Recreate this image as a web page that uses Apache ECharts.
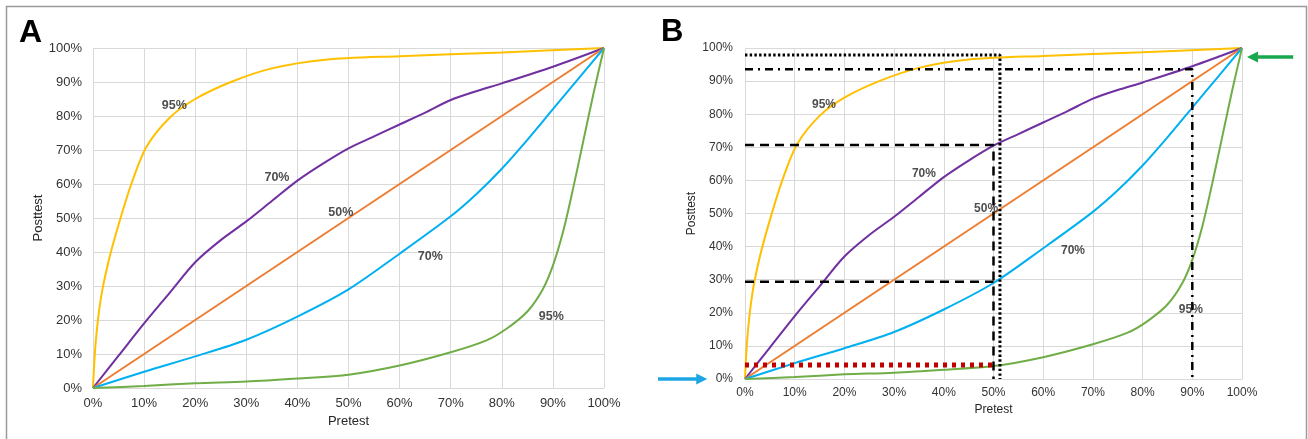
<!DOCTYPE html>
<html>
<head>
<meta charset="utf-8">
<script src="https://cdn.jsdelivr.net/npm/echarts@6/dist/echarts.min.js"></script>
<style>
html,body{margin:0;padding:0;background:#fff;}
#c{width:1308px;height:439px;}
</style>
</head>
<body>
<div id="c"></div>
<script>
// ---- data (percent values) ----
const xTicks = [0,10,20,30,40,50,60,70,80,90,100];
const pos95 = [[0,0],[0.5,13],[1.5,26],[3,37],[5,48],[7.5,60],[10.5,71],[15,79.5],[20,85],[27,90],[35,94],[45,96.5],[60,97.6],[80,98.7],[100,100]];
const pos70 = [[0,0],[5,9.5],[10,19],[15,28],[20,37],[25,43.5],[30,49],[35,55],[40,61],[45,66],[50,70.5],[55,74],[60,77.5],[65,81],[70,84.7],[75,87.3],[80,89.6],[90,94.5],[100,100]];
const neutral50 = [[0,0],[100,100]];
const neg70 = [[0,0],[10,4.8],[20,9.3],[30,14.2],[40,21],[50,29],[60,39.5],[70,50.5],[75,57],[80,64.5],[85,73],[90,82],[95,91],[100,100]];
const neg95 = [[0,0],[10,0.6],[20,1.4],[30,1.9],[40,2.8],[50,3.9],[60,6.6],[70,10.5],[77,14],[81,17.5],[85,22.5],[88,29],[90,36],[92,46],[94,59],[96,73],[98,87],[100,100]];
const curveLabelText = ['95%','70%','50%','70%','95%'];
const curveLabelX = [15.9,36,48.5,66,89.7];
const curveLabelY = [83,62,51.5,38.8,21];
// panel B guide lines
const dottedGuide = [[0,97.9],[51.3,97.9],[51.3,0]];
const dashDotGuide = [[0,93.6],[90,93.6],[90,0]];
const dashedGuide70 = [[0,70.7],[50,70.7],[50,0]];
const dashedGuide30 = [[0,29.4],[50,29.4]];
const redDottedGuide = [[0,4.2],[50,4.2]];
const blueArrow = [[-17.5,0],[-7.6,0]];     // tail, tip
const greenArrow = [[110.3,97.3],[101,97.3]]; // tail, tip

const FONT = "'Liberation Sans', Arial, sans-serif";
const colors = {y:'#FFC000', p:'#7030A0', o:'#ED7D31', b:'#00B0F0', g:'#70AD47'};

const chart = echarts.init(document.getElementById('c'), null, {renderer:'canvas'});

function axes(gi, fs, ymargin, xmargin, ygap, xgap){
  const common = {
    type:'value', min:0, max:100, interval:10, gridIndex:gi,
    axisLine:{show:true, lineStyle:{color:'#d9d9d9', width:1}},
    axisTick:{show:false},
    splitLine:{show:true, lineStyle:{color:'#d9d9d9', width:1}},
    nameTextStyle:{fontFamily:FONT, fontSize:fs, color:'#262626'},
    nameLocation:'middle'
  };
  return {
    x: Object.assign({}, common, {name:'Pretest', nameGap:xgap,
      axisLabel:{formatter:'{value}%', fontFamily:FONT, fontSize:fs, color:'#333', margin:xmargin}}),
    y: Object.assign({}, common, {name:'Posttest', nameGap:ygap,
      axisLabel:{formatter:'{value}%', fontFamily:FONT, fontSize:fs, color:'#333', margin:ymargin}})
  };
}
const aA = axes(0, 13, 11, 9, 48, 27);
const aB = axes(1, 12, 12, 8, 47, 25);

function curves(gi){
  const mk = (d,c)=>({type:'line', xAxisIndex:gi, yAxisIndex:gi, data:d, smooth:0.3, showSymbol:false, symbol:'none',
    lineStyle:{color:c, width:2}, z:3, silent:true, animation:false});
  return [mk(pos95,colors.y), mk(pos70,colors.p), mk(neutral50,colors.o), mk(neg70,colors.b), mk(neg95,colors.g),
    {type:'scatter', xAxisIndex:gi, yAxisIndex:gi, symbolSize:0, z:6, silent:true, animation:false,
     data: curveLabelText.map((t,i)=>({name:t, value:[curveLabelX[i], curveLabelY[i]]})),
     label:{show:true, position:'inside', formatter:p=>p.name, fontFamily:FONT, fontWeight:'bold', fontSize:gi===0?12.5:12, color:'#222'}}];
}
function guide(d, color, width, dash, z){
  return {type:'line', xAxisIndex:1, yAxisIndex:1, data:d, showSymbol:false, symbol:'none', smooth:false,
    lineStyle:{color:color, width:width, type:dash, cap:'butt'}, z:z, silent:true, animation:false};
}

const series = [].concat(curves(0), curves(1), [
  guide(dottedGuide, '#000', 3, [2.4,2.3], 5),
  guide(dashDotGuide, '#000', 2.5, [8,5,2,5], 5),
  guide(dashedGuide70, '#000', 2.5, [9,6], 5),
  guide(dashedGuide30, '#000', 2.5, [9,6], 5),
  guide(redDottedGuide, '#C00000', 5, [4,5], 5)
]);

chart.setOption({
  animation:false,
  backgroundColor:'#fff',
  grid:[
    {left:93, top:48, width:511, height:340},
    {left:745, top:48, width:497, height:331}
  ],
  xAxis:[aA.x, aB.x],
  yAxis:[aA.y, aB.y],
  series: series
});

function arrowGraphic(pts, color){
  const t = chart.convertToPixel({gridIndex:1}, pts[0]);
  const h = chart.convertToPixel({gridIndex:1}, pts[1]);
  const dx = h[0]-t[0], dy = h[1]-t[1];
  const L = Math.sqrt(dx*dx+dy*dy), ux = dx/L, uy = dy/L;
  const hl = 11, hw = 5.5;
  const bx = h[0]-ux*hl, by = h[1]-uy*hl;
  return [
    {type:'line', shape:{x1:t[0], y1:t[1], x2:bx+ux*1, y2:by+uy*1}, style:{stroke:color, lineWidth:3.5}, z:10},
    {type:'polygon', shape:{points:[[h[0],h[1]],[bx-uy*hw, by+ux*hw],[bx+uy*hw, by-ux*hw]]}, style:{fill:color}, z:10}
  ];
}

chart.setOption({
  graphic:[
    {type:'rect', shape:{x:6.5, y:6.5, width:1300, height:445}, style:{fill:'none', stroke:'#9a9a9a', lineWidth:1.5}, z:0, silent:true},
    {type:'text', left:19, top:17, style:{text:'A', font:"bold 32px "+FONT, fill:'#000'}, z:10},
    {type:'text', left:661, top:17, style:{text:'B', font:"bold 31px "+FONT, fill:'#000'}, z:10}
  ].concat(arrowGraphic(blueArrow, '#1CA6E6'), arrowGraphic(greenArrow, '#19A850'))
});
</script>
</body>
</html>
